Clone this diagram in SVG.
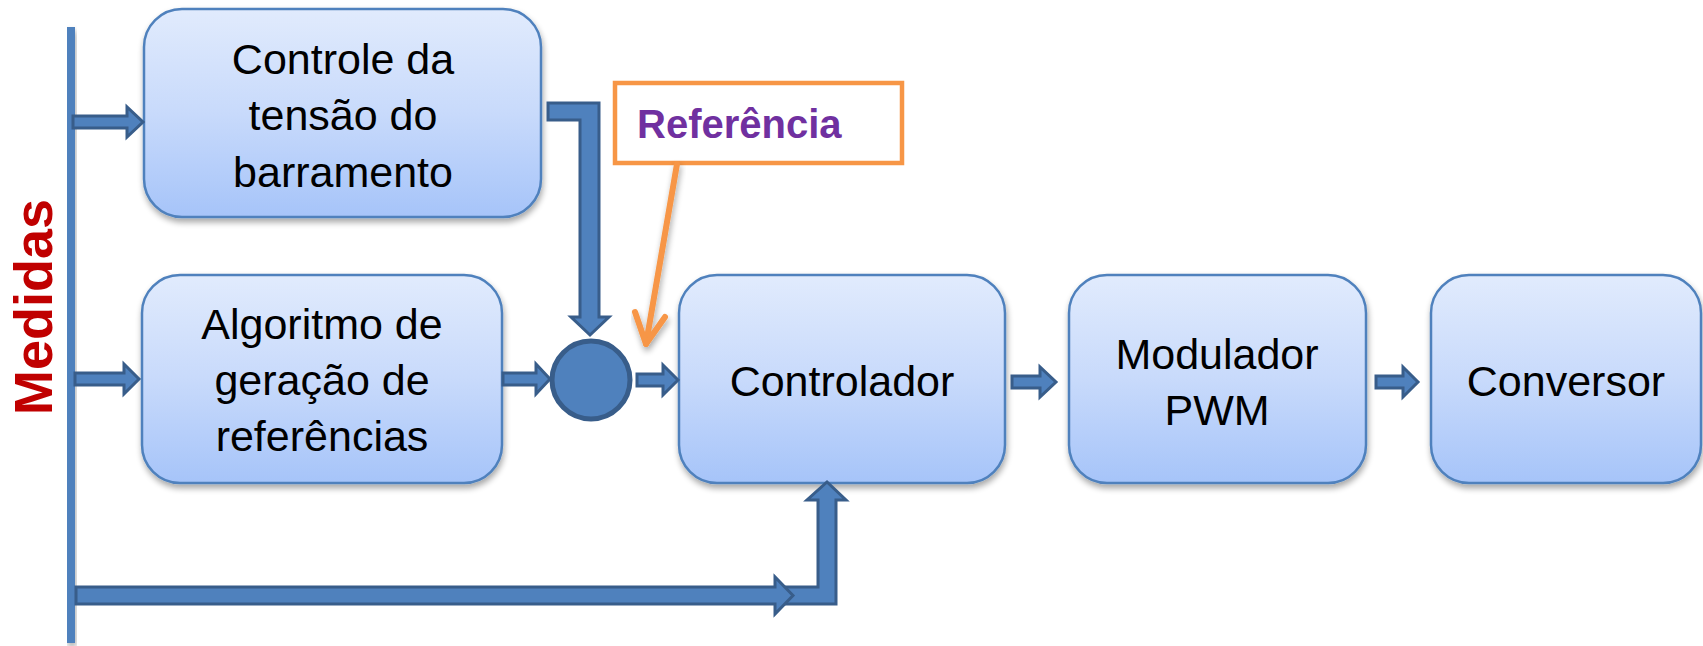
<svg xmlns="http://www.w3.org/2000/svg" width="1703" height="646" viewBox="0 0 1703 646">
<defs>
<linearGradient id="bg" x1="0" y1="0" x2="0" y2="1">
<stop offset="0" stop-color="#E1EBFD"/>
<stop offset="0.5" stop-color="#C8DAFB"/>
<stop offset="1" stop-color="#A6C4F9"/>
</linearGradient>
<filter id="sh" x="-10%" y="-10%" width="130%" height="130%">
<feGaussianBlur in="SourceAlpha" stdDeviation="3"/>
<feOffset dx="1" dy="4" result="b"/>
<feComponentTransfer><feFuncA type="linear" slope="0.35"/></feComponentTransfer>
<feMerge><feMergeNode/><feMergeNode in="SourceGraphic"/></feMerge>
</filter>
<style>
.box{fill:url(#bg);stroke:#4F81BD;stroke-width:2.5;filter:url(#sh)}
.t{font-family:"Liberation Sans",Arial,sans-serif;font-size:43px;fill:#000;text-anchor:middle}
.arr{fill:#4F81BD;stroke:#385D8A;stroke-width:3;stroke-linejoin:miter}
</style>
</defs>
<rect width="1703" height="646" fill="#fff"/>

<g id="medidas">
<rect x="67" y="27" width="8" height="616" fill="#4F81BD" filter="url(#sh)"/>
<text transform="translate(52,307) rotate(-90)" text-anchor="middle" font-family="Liberation Sans,Arial,sans-serif" font-weight="bold" font-size="54" fill="#C00000">Medidas</text>
</g>

<g id="controle-tensao">
<rect class="box" x="144" y="9" width="397" height="208" rx="38"/>
<text class="t" x="343" y="74">Controle da</text>
<text class="t" x="343" y="130">tensão do</text>
<text class="t" x="343" y="187">barramento</text>
</g>

<g id="algoritmo">
<rect class="box" x="142" y="275" width="360" height="208" rx="38"/>
<text class="t" x="322" y="339">Algoritmo de</text>
<text class="t" x="322" y="395">geração de</text>
<text class="t" x="322" y="451">referências</text>
</g>

<g id="somador">
<circle cx="591" cy="380" r="39" fill="#4F81BD" stroke="#385D8A" stroke-width="5"/>
</g>

<g id="controlador">
<rect class="box" x="679" y="275" width="326" height="208" rx="38"/>
<text class="t" x="842" y="396">Controlador</text>
</g>

<g id="modulador">
<rect class="box" x="1069" y="275" width="297" height="208" rx="38"/>
<text class="t" x="1217" y="369">Modulador</text>
<text class="t" x="1217" y="425">PWM</text>
</g>

<g id="conversor">
<rect class="box" x="1431" y="275" width="270" height="208" rx="38"/>
<text class="t" x="1566" y="396">Conversor</text>
</g>

<g id="referencia">
<rect x="615" y="83" width="287" height="80" fill="#fff" stroke="#F79646" stroke-width="4.5"/>
<text x="637" y="138" font-family="Liberation Sans,Arial,sans-serif" font-weight="bold" font-size="40" fill="#7030A0">Referência</text>
</g>

<g id="connectors">
<path class="arr" d="M73,116 H127 V107 L143,122 L127,137 V128 H73 Z"/>
<path class="arr" d="M75,373 H124 V364 L139,379 L124,394 V385 H75 Z"/>
<path class="arr" d="M548,103 H599 V317 H609 L590,335 L571,317 H580 V120 H548 Z"/>
<path class="arr" d="M503,373 H536 V364 L550,379 L536,394 V385 H503 Z"/>
<path class="arr" d="M637,374 H663 V365 L678,380 L663,395 V386 H637 Z"/>
<path class="arr" d="M1012,376 H1040 V367 L1056,382 L1040,397 V388 H1012 Z"/>
<path class="arr" d="M1376,376 H1403 V367 L1418,382 L1403,397 V388 H1376 Z"/>
<path class="arr" d="M784,587 H818 V500 H807 L827,482 L846,500 H836 V604 H784 Z"/>
<path class="arr" d="M76,587 H775 V577 L793,595.5 L775,614 V604 H76 Z"/>
<g fill="none" stroke="#F79646" stroke-width="6" stroke-linecap="round" stroke-linejoin="round" filter="url(#sh)">
<path d="M677,164 L646,344"/>
<path d="M635,312 L646,344 L665,317"/>
</g>
</g>
</svg>
